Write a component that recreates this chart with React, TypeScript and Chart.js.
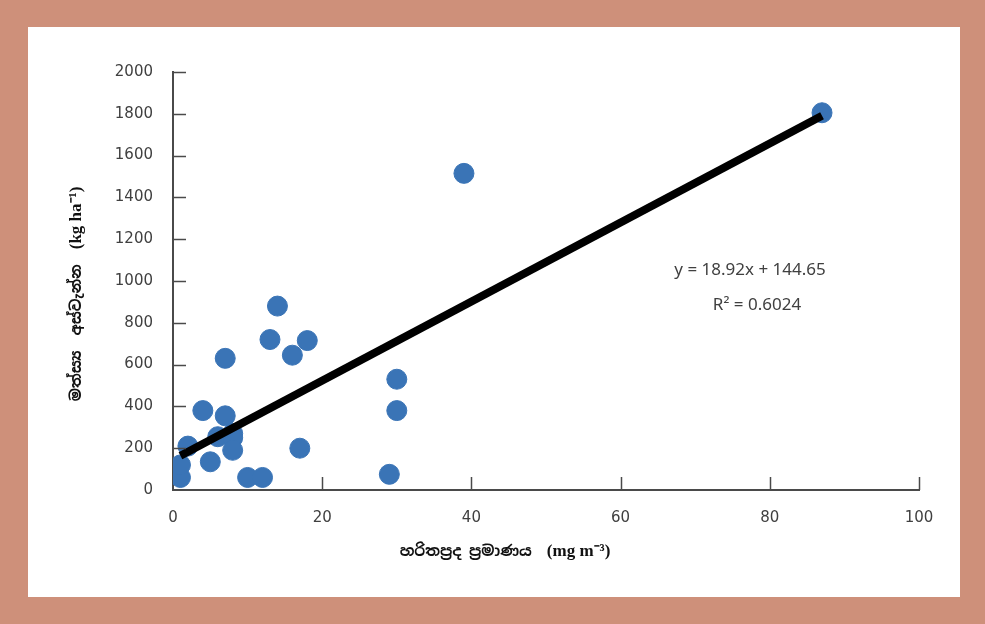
import React, { useEffect, useRef } from "react";
import { Chart, registerables } from "chart.js";

Chart.register(...registerables);

const chlorophyll = [1, 1, 2, 4, 5, 6, 7, 7, 8, 8, 8, 10, 12, 13, 14, 16, 17, 18, 29, 30, 30, 39, 87];
const fishYield = [60, 120, 210, 380, 135, 255, 355, 630, 270, 250, 190, 60, 60, 720, 880, 645, 200, 715, 75, 530, 380, 1515, 1805];
const trendX = [1, 87];
const trendY = [163.57, 1790.69];
const xTicks = [0, 20, 40, 60, 80, 100];
const yTicks = [0, 200, 400, 600, 800, 1000, 1200, 1400, 1600, 1800, 2000];
const xTitleMain = "හරිතප්‍රද ප්‍රමාණය";
const xTitleUnit = "(mg m⁻³)";
const yTitleMain = "මත්ස්‍ය  අස්වැන්න";
const yTitleUnit = "(kg ha⁻¹)";
const equationLines = ["y = 18.92x + 144.65", "R² = 0.6024"];

const SIN_FONT = "bold 15px 'Noto Sans Sinhala', 'Noto Sans', sans-serif";
const UNIT_FONT = "bold 17px 'Liberation Serif', serif";

function drawTitle(ctx: any, main: string, unit: string, cx: number, cy: number) {
  const gap = 15;
  ctx.font = SIN_FONT;
  const w1 = ctx.measureText(main).width;
  ctx.font = UNIT_FONT;
  const w2 = ctx.measureText(unit).width;
  const start = cx - (w1 + gap + w2) / 2;
  ctx.textAlign = "left";
  ctx.textBaseline = "middle";
  ctx.font = SIN_FONT;
  ctx.fillText(main, start, cy);
  ctx.font = UNIT_FONT;
  ctx.fillText(unit, start + w1 + gap, cy);
}

const overlay = {
  id: "overlay",
  afterDraw(chart: any) {
    const { ctx, chartArea, scales } = chart;
    const xs = scales.x;
    const ys = scales.y;
    ctx.save();
    ctx.strokeStyle = "#4a4a4a";
    ctx.lineWidth = 1.5;
    xTicks.forEach((v) => {
      if (v === 0) return;
      const px = Math.round(xs.getPixelForValue(v)) + 0.5;
      ctx.beginPath();
      ctx.moveTo(px, chartArea.bottom);
      ctx.lineTo(px, chartArea.bottom - 13);
      ctx.stroke();
    });
    yTicks.forEach((v) => {
      if (v === 0) return;
      const py = Math.round(ys.getPixelForValue(v)) + 0.5;
      ctx.beginPath();
      ctx.moveTo(chartArea.left, py);
      ctx.lineTo(chartArea.left + 13, py);
      ctx.stroke();
    });
    // equation
    ctx.fillStyle = "#404040";
    ctx.font = "17px 'Noto Sans', sans-serif";
    ctx.textAlign = "center";
    ctx.textBaseline = "middle";
    ctx.fillText(equationLines[0], 722, 243);
    ctx.fillText(equationLines[1], 729, 278);
    // axis titles
    ctx.fillStyle = "#111";
    drawTitle(ctx, xTitleMain, xTitleUnit, 477, 525);
    ctx.translate(49, 267);
    ctx.rotate(-Math.PI / 2);
    drawTitle(ctx, yTitleMain, yTitleUnit, 0, 0);
    ctx.restore();
  },
};

export default function App() {
  const ref = useRef<HTMLCanvasElement>(null);
  useEffect(() => {
    document.body.style.margin = "0";
    const chart = new Chart(ref.current as HTMLCanvasElement, {
      type: "scatter",
      data: {
        datasets: [
          {
            type: "line",
            data: trendX.map((x, i) => ({ x, y: trendY[i] })),
            borderColor: "#000",
            borderWidth: 8,
            pointRadius: 0,
            fill: false,
          } as any,
          {
            data: chlorophyll.map((x, i) => ({ x, y: fishYield[i] })),
            backgroundColor: "#3A74B6",
            borderColor: "#3A74B6",
            borderWidth: 1,
            pointRadius: 10,
          },
        ],
      },
      options: {
        animation: false,
        responsive: false,
        layout: { padding: { left: 0, right: 41, top: 45, bottom: 0 } },
        plugins: { legend: { display: false }, tooltip: { enabled: false } },
        scales: {
          x: {
            type: "linear",
            min: 0,
            max: 100,
            afterFit: (s: any) => {
              s.height = 107;
            },
            afterBuildTicks: (s: any) => {
              s.ticks = xTicks.map((v) => ({ value: v }));
            },
            grid: { display: false, drawTicks: false },
            border: { display: true, color: "#4a4a4a", width: 2 },
            ticks: {
              padding: 19,
              color: "#404040",
              font: { family: "'DejaVu Sans', sans-serif", size: 15 },
              callback: (v: any) => String(v),
            },
          },
          y: {
            type: "linear",
            min: 0,
            max: 2000,
            afterFit: (s: any) => {
              s.width = 145;
            },
            afterBuildTicks: (s: any) => {
              s.ticks = yTicks.map((v) => ({ value: v }));
            },
            grid: { display: false, drawTicks: false },
            border: { display: true, color: "#4a4a4a", width: 2 },
            ticks: {
              padding: 20,
              color: "#404040",
              font: { family: "'DejaVu Sans', sans-serif", size: 15 },
              callback: (v: any) => String(v),
            },
          },
        },
      },
      plugins: [overlay],
    });
    return () => chart.destroy();
  }, []);
  return (
    <div style={{ position: "relative", width: 985, height: 624, background: "#CE907A" }}>
      <div style={{ position: "absolute", left: 28, top: 27, width: 932, height: 570, background: "#fff" }}>
        <canvas ref={ref} width={932} height={570} style={{ display: "block" }} />
      </div>
    </div>
  );
}
